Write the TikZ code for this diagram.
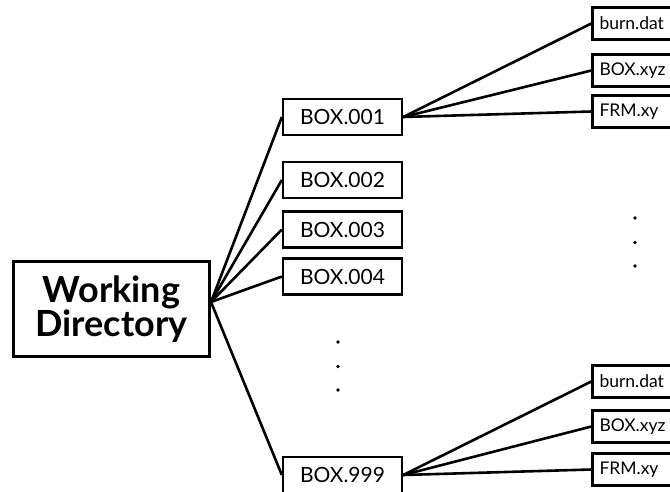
\documentclass[tikz,border=0pt]{standalone}
\usepackage{fontspec}
\setmainfont{Lato}
\begin{document}
\begin{tikzpicture}[x=1pt,y=-1pt,
  wdbox/.style={draw, line width=3pt, minimum width=196pt, minimum height=95pt, inner sep=0pt, align=center, font=\fontsize{36}{34}\selectfont\bfseries},
  dirbox/.style={draw, line width=2.3pt, minimum width=119pt, minimum height=36pt, inner sep=0pt, font=\fontsize{21}{24}\selectfont},
  filebox/.style={draw, line width=2.3pt, minimum height=32pt, text width=70pt, inner xsep=7pt, inner ysep=0pt, align=left, font=\fontsize{17.5}{20}\selectfont},
  link/.style={line width=2.6pt},
  dotmark/.style={circle, fill=black, inner sep=0pt, minimum size=3.8pt}]
\useasboundingbox (0,0) rectangle (670,492);
\clip (0,0) rectangle (670,492);
\node[wdbox] (wd) at (111.5,309) {Working\\Directory};
\coordinate (hub) at (211,302);
\node[dirbox] (b1) at (342.5,117) {BOX.001\hspace{5pt}};
\node[dirbox] (b2) at (342.5,180) {BOX.002\hspace{5pt}};
\node[dirbox] (b3) at (342.5,229.5) {BOX.003\hspace{5pt}};
\node[dirbox] (b4) at (342.5,276.5) {BOX.004\hspace{5pt}};
\node[dirbox] (b9) at (342.5,475) {BOX.999\hspace{5pt}};
\node[filebox] (f1) at (634.5,23.5) {burn.dat};
\node[filebox] (f2) at (634.5,70.5) {BOX.xyz};
\node[filebox] (f3) at (634.5,111.5) {FRM.xy};
\node[filebox] (g1) at (634.5,381.5) {burn.dat};
\node[filebox] (g2) at (634.5,426.5) {BOX.xyz};
\node[filebox] (g3) at (634.5,469.5) {FRM.xy};
\foreach \b in {b1,b2,b3,b4,b9} \draw[link] (hub) -- (\b.west);
\foreach \f in {f1,f2,f3} \draw[link] (b1.east) -- (\f.west);
\foreach \g in {g1,g2,g3} \draw[link] (b9.east) -- (\g.west);
\node[dotmark] (m1) at (338,342) {};
\node[dotmark] (m2) at (338,366.5) {};
\node[dotmark] (m3) at (338,390) {};
\node[dotmark] (r1) at (635,218) {};
\node[dotmark] (r2) at (635,242.5) {};
\node[dotmark] (r3) at (635,266) {};
\end{tikzpicture}
\end{document}
